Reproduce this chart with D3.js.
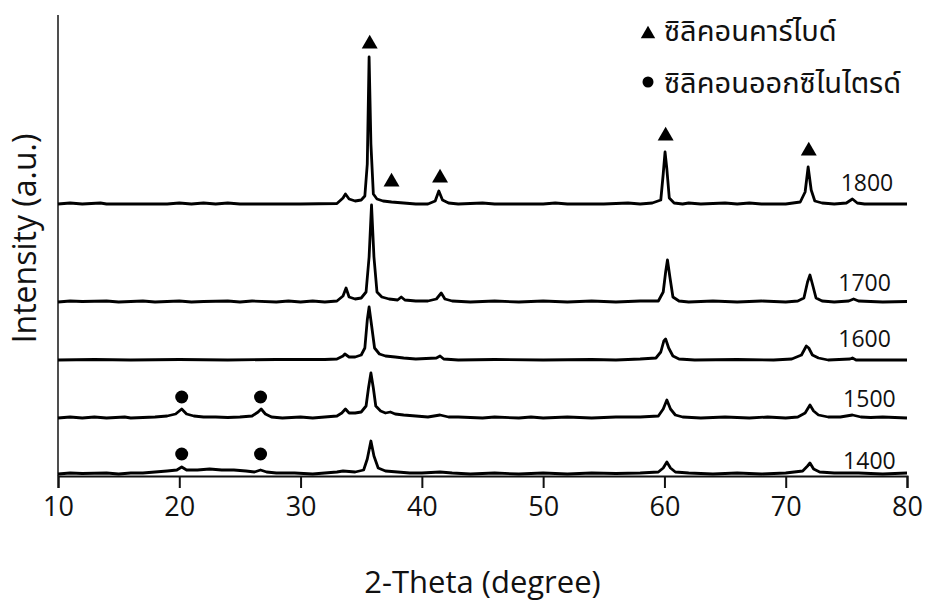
<!DOCTYPE html>
<html>
<head>
<meta charset="utf-8">
<script src="https://cdn.jsdelivr.net/npm/d3@7"></script>
<style>
  body { margin: 0; background: #fff; }
  text { font-family: "Open Sans", sans-serif; fill: #111; }
  .thai { font-family: "Noto Sans Thai", "Tahoma", "Loma", "Garuda", "Noto Sans", sans-serif; }
</style>
</head>
<body>
<div id="container"></div>
<script>
/*** DATA ***/
const xTicks = [10, 20, 30, 40, 50, 60, 70, 80];
const temps = ["1800", "1700", "1600", "1500", "1400"];
// vertical offset of each pattern (a.u.)
const offsets = [272, 174, 116, 58, 2];

// [2-theta, intensity a.u.] for each firing temperature
const xrd1800 = [[10,0],[11,1],[12,0],[13.5,1],[14,0],[15,0],[19,0],[20,1],[21,0],[22,1],[23,0],[24,1],[25,0],[30,0],[33,0.5],[33.5,6],[33.7,10],[34,5],[34.5,3],[35,4],[35.3,8],[35.5,40],[35.65,147],[35.8,60],[36,10],[36.3,5],[36.8,3],[37.5,2],[38.5,1],[39.5,0],[40.5,0],[41.1,3],[41.4,13],[41.7,4],[42.2,1],[43,0],[45,1],[46,0],[50,0],[51,1],[52,0],[55,0],[57,1],[58,0],[59,1],[59.7,4],[59.9,30],[60.05,52],[60.2,35],[60.4,6],[60.8,1],[61.5,0],[62,1],[63,0],[65,1],[66,0],[67,1],[68,0],[70,0],[71.2,2],[71.6,12],[71.85,37],[72.1,14],[72.4,3],[73,1],[74,0],[75,1],[75.5,5],[75.9,1],[76.5,0],[80,0]];
const xrd1700 = [[10,0],[11,1],[12,0.5],[14,1],[15,0],[17,1],[18,0],[20,1],[21,0],[22,0.5],[24,1],[25,0],[26,1],[28,0],[29,1],[30,0],[31,1],[32,0],[33,1],[33.5,6],[33.75,14],[34,5],[34.5,3],[35,4],[35.4,10],[35.65,45],[35.85,97],[36.05,45],[36.3,10],[36.7,5],[37.3,3],[38,2],[38.3,5],[38.6,2],[39.5,1],[40.5,1],[41.2,3],[41.6,9],[41.9,3],[42.5,1],[44,0],[46,1],[48,0],[50,1],[52,0],[54,1],[56,0],[58,1],[59.5,1],[59.9,10],[60.1,30],[60.25,42],[60.45,25],[60.7,5],[61.2,1],[62,0],[64,1],[66,0],[68,1],[70,0],[71,1],[71.5,4],[71.8,20],[72,27],[72.2,18],[72.5,4],[73,1],[74,0],[75.2,1],[75.6,3],[76,1],[78,0],[80,0.5]];
const xrd1600 = [[10,0],[13,0.5],[16,0],[20,0.5],[24,0],[28,0.5],[32,0.5],[33,1],[33.5,4],[33.65,6],[34,3],[34.5,3],[35,5],[35.3,12],[35.5,40],[35.65,53],[35.85,35],[36.1,12],[36.5,6],[37,4],[37.8,3],[38.5,2],[39.5,1],[41.2,2],[41.5,4],[41.8,1],[43,0],[46,0.5],[50,0],[54,0.5],[56,0],[58,1],[59.3,2],[59.7,8],[59.95,19],[60.1,21],[60.35,12],[60.7,4],[61.2,1],[62.5,0],[66,0.5],[69,0],[70.5,1],[71.3,5],[71.7,14],[71.9,12],[72.2,5],[72.7,2],[73.5,0],[75.3,1],[75.5,2],[75.8,0],[80,0]];
const xrd1500 = [[10,0],[11,1],[12,0],[13,1],[14,0],[15.5,1],[16,0],[17,0.5],[18,1],[19,2],[19.7,4],[20.2,9],[20.6,4],[21.2,2],[22,1],[23,1],[24,0.5],[25,1],[26,2],[26.5,6],[26.75,9],[27.1,4],[27.6,1],[28.5,0],[30,1],[31,0],[32,1],[33,2],[33.4,5],[33.7,9],[34,5],[34.5,5],[35,6],[35.4,12],[35.6,30],[35.8,45],[36,30],[36.2,12],[36.6,7],[37,5],[37.4,6],[37.8,4],[38.5,3],[39.5,2],[40.5,1],[41.5,3],[42.2,1],[43,1],[45,0],[46,1],[48,0],[49,1],[50,0],[52,1],[54,0],[56,1],[58,1],[59.5,2],[59.9,9],[60.2,18],[60.5,9],[60.9,3],[61.5,1],[63,0],[65,1],[67,0],[68.5,1],[70,0],[71,1],[71.6,5],[72,13],[72.3,7],[72.7,3],[73.5,1],[74.5,1],[75.5,3],[76.2,1],[77,0.5],[78,1],[80,0]];
const xrd1400 = [[10,0],[11,1],[12,0.5],[14,1],[15,0],[16,1],[17,1],[18,2],[19,3],[19.8,4],[20.2,7],[20.6,4],[21.5,4],[22.5,5],[23.5,4],[24.5,4],[25.5,3],[26.2,2],[26.7,4],[27.2,2],[28,1],[29.5,1],[31,0],[32,1],[33,2],[33.5,3],[34.5,2],[35.2,4],[35.5,15],[35.8,33],[36.05,18],[36.4,6],[37,3],[38,2],[39,1],[40,1],[41.5,2],[42.5,1],[44,0],[46,1],[48,0],[50,1],[52,0],[54,1],[56,0.5],[58,1],[59.5,2],[59.9,6],[60.2,12],[60.5,6],[60.9,2],[62,1],[64,0],[66,1],[68,0],[70,1],[71.4,3],[71.8,8],[72,11],[72.3,5],[72.8,2],[74,1],[76,1],[78,0],[80,1]];
const patterns = [xrd1800, xrd1700, xrd1600, xrd1500, xrd1400];

// where each temperature label sits: [2-theta, height above its pattern]
const labelPos = [[76.7, 22], [76.5, 20], [76.5, 22], [76.9, 20], [76.9, 14]];

// phase markers: silicon carbide (triangle) on 1800, silicon oxynitride (dot) on 1500/1400
const sicMarks = [[35.7, 160], [37.5, 22], [41.5, 26], [60.1, 68], [71.9, 53]];
const sonMarks1500 = [[20.2, 21], [26.7, 21]];
const sonMarks1400 = [[20.2, 20], [26.7, 20]];

const legendItems = ["ซิลิคอนคาร์ไบด์", "ซิลิคอนออกซิไนไตรด์"];

/*** LAYOUT ***/
const width = 930, height = 610;
const margin = { top: 15, right: 23, bottom: 134, left: 58 };

const svg = d3.select("#container").append("svg")
  .attr("width", width)
  .attr("height", height)
  .style("background", "#fff");

const x = d3.scaleLinear().domain([10, 80]).range([margin.left, width - margin.right]);
const y = d3.scaleLinear().domain([0, 461]).range([height - margin.bottom, margin.top]);

// y axis: plain line
svg.append("line")
  .attr("x1", x(10)).attr("x2", x(10))
  .attr("y1", y(461)).attr("y2", y(0))
  .attr("stroke", "#222").attr("stroke-width", 1.6);

// x axis
const xAxis = svg.append("g")
  .attr("transform", `translate(0,${y(0)})`)
  .call(d3.axisBottom(x).tickValues(xTicks).tickSize(12).tickPadding(9).tickFormat(d3.format("d")));
xAxis.select(".domain").attr("stroke", "#111").attr("stroke-width", 2);
xAxis.selectAll(".tick line").attr("stroke", "#111").attr("stroke-width", 2);
xAxis.selectAll(".tick text")
  .style("font-family", '"Open Sans", sans-serif')
  .style("font-size", "27px")
  .attr("fill", "#111");

// patterns
const line = off => d3.line().x(d => x(d[0])).y(d => y(d[1] + off));

patterns.forEach((p, i) => {
  svg.append("path")
    .datum(p)
    .attr("d", line(offsets[i]))
    .attr("fill", "none")
    .attr("stroke", "#000")
    .attr("stroke-width", 2.8)
    .attr("stroke-linejoin", "round");
});

// temperature labels
svg.selectAll(".templabel")
  .data(temps)
  .join("text")
  .attr("class", "templabel")
  .attr("x", (d, i) => x(labelPos[i][0]))
  .attr("y", (d, i) => y(offsets[i] + labelPos[i][1]))
  .attr("text-anchor", "middle")
  .attr("dominant-baseline", "central")
  .style("font-size", "23px")
  .text(d => d);

// markers
const tri = d3.symbol().type(d3.symbolTriangle).size(110);
svg.selectAll(".sic")
  .data(sicMarks)
  .join("path")
  .attr("class", "sic")
  .attr("d", tri)
  .attr("transform", d => `translate(${x(d[0])},${y(offsets[0] + d[1])})`)
  .attr("fill", "#000");

svg.selectAll(".son")
  .data(sonMarks1500.map(d => [d[0], d[1] + offsets[3]]).concat(sonMarks1400.map(d => [d[0], d[1] + offsets[4]])))
  .join("circle")
  .attr("class", "son")
  .attr("cx", d => x(d[0]))
  .attr("cy", d => y(d[1]))
  .attr("r", 6.5)
  .attr("fill", "#000");

// legend
const legend = svg.append("g").attr("transform", "translate(648,0)");
legend.append("path").attr("d", d3.symbol().type(d3.symbolTriangle).size(90)).attr("transform", "translate(0,34)").attr("fill", "#000");
legend.append("circle").attr("cx", 0).attr("cy", 82).attr("r", 5.5).attr("fill", "#000");
legend.selectAll(".legtext")
  .data(legendItems)
  .join("text")
  .attr("class", "legtext thai")
  .attr("x", 16)
  .attr("y", (d, i) => 41 + i * 52)
  .style("font-size", "29px")
  .text(d => d);

// axis titles
svg.append("text")
  .attr("x", (x(10) + x(80)) / 2)
  .attr("y", 593)
  .attr("text-anchor", "middle")
  .style("font-size", "31px")
  .text("2-Theta (degree)");

svg.append("text")
  .attr("transform", `translate(36,${(y(0) + y(461)) / 2 - 7}) rotate(-90)`)
  .attr("text-anchor", "middle")
  .style("font-size", "32px")
  .text("Intensity (a.u.)");
</script>
</body>
</html>
